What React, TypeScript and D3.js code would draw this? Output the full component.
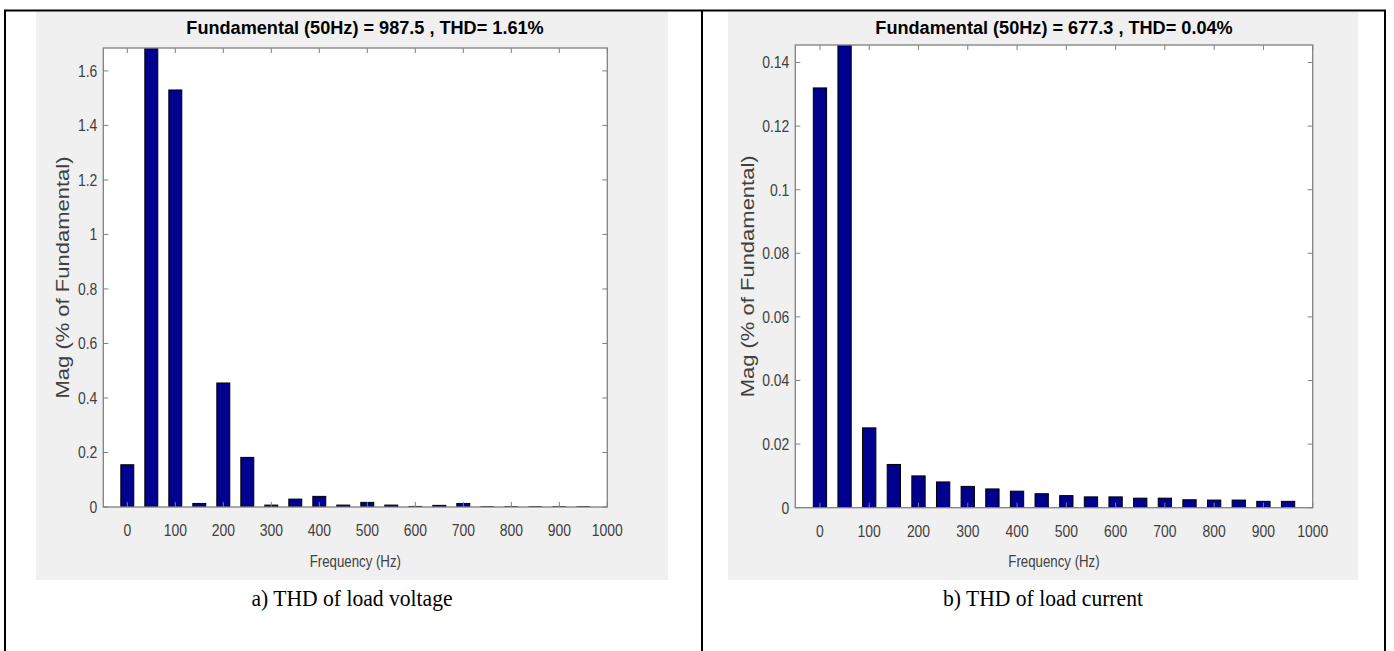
import React from 'react';
import * as d3 from 'd3';

// harmonic spectrum, 0..950 Hz in 50 Hz steps (fundamental bar = 100 %, clipped by the axes)
const freqs = [0, 50, 100, 150, 200, 250, 300, 350, 400, 450, 500, 550, 600, 650, 700, 750, 800, 850, 900, 950];
const voltageMag = [0.155, 100, 1.53, 0.013, 0.455, 0.182, 0.007, 0.029, 0.039, 0.007, 0.017, 0.007, 0.002, 0.006, 0.013, 0.001, 0.001, 0.001, 0.001, 0.001];
const currentMag = [0.132, 100, 0.0251, 0.0136, 0.01, 0.0081, 0.0067, 0.0059, 0.0052, 0.0044, 0.0038, 0.0034, 0.0034, 0.003, 0.003, 0.0025, 0.0024, 0.0024, 0.002, 0.002];

const xTicks = [0, 100, 200, 300, 400, 500, 600, 700, 800, 900, 1000];
const voltageYTicks = [0, 0.2, 0.4, 0.6, 0.8, 1, 1.2, 1.4, 1.6];
const voltageYLabels = ['0', '0.2', '0.4', '0.6', '0.8', '1', '1.2', '1.4', '1.6'];
const currentYTicks = [0, 0.02, 0.04, 0.06, 0.08, 0.1, 0.12, 0.14];
const currentYLabels = ['0', '0.02', '0.04', '0.06', '0.08', '0.1', '0.12', '0.14'];

const voltageTitle = 'Fundamental (50Hz) = 987.5 , THD= 1.61%';
const currentTitle = 'Fundamental (50Hz) = 677.3 , THD= 0.04%';
const voltageCaption = 'a) THD of load voltage';
const currentCaption = 'b) THD of load current';

const SANS = '"Liberation Sans", Arial, sans-serif';
const SERIF = '"Liberation Serif", "Times New Roman", serif';
const BAR = '#00008f';
const AXIS = '#808080';
const LABEL = '#404040';

type PanelProps = {
  id: string;
  bg: [number, number];
  ax: [number, number];
  ay: [number, number];
  yMax: number;
  values: number[];
  yTicks: number[];
  yLabels: string[];
  yTitleX: number;
  title: string;
  titleX: number;
  caption: string;
  captionX: number;
};

function Panel(p: PanelProps) {
  const x = d3.scaleLinear().domain([-50, 1000]).range(p.ax);
  const y = d3.scaleLinear().domain([0, p.yMax]).range([p.ay[1], p.ay[0]]);
  const [left, right] = p.ax;
  const [top, bottom] = p.ay;
  const barW = (x(50) - x(0)) * 0.54;
  const tick = 5;
  const midX = (left + right) / 2;

  return (
    <g>
      <rect x={p.bg[0]} y={11} width={p.bg[1] - p.bg[0]} height={580 - 11} fill="#f0f0f0" />
      <rect x={left} y={top} width={right - left} height={bottom - top} fill="#fff" />
      <clipPath id={p.id}>
        <rect x={left} y={top} width={right - left} height={bottom - top} />
      </clipPath>
      <g clipPath={`url(#${p.id})`}>
        {freqs.map((f, i) => (
          <rect
            key={f}
            x={x(f) - barW / 2}
            y={y(p.values[i])}
            width={barW}
            height={y(0) - y(p.values[i])}
            fill={BAR}
            stroke="#000"
            strokeWidth={1}
          />
        ))}
      </g>

      {/* ticks on all four sides, pointing inwards */}
      <g stroke={AXIS} strokeWidth={1}>
        {xTicks.map((t) => (
          <g key={t}>
            <line x1={x(t)} x2={x(t)} y1={bottom} y2={bottom - tick} />
            <line x1={x(t)} x2={x(t)} y1={top} y2={top + tick} />
          </g>
        ))}
        {p.yTicks.map((t) => (
          <g key={t}>
            <line x1={left} x2={left + tick} y1={y(t)} y2={y(t)} />
            <line x1={right} x2={right - tick} y1={y(t)} y2={y(t)} />
          </g>
        ))}
      </g>
      <rect x={left} y={top} width={right - left} height={bottom - top} fill="none" stroke={AXIS} strokeWidth={1.3} />

      <g fontFamily={SANS} fontSize={17} fill={LABEL}>
        {xTicks.map((t) => (
          <text key={t} transform={`translate(${x(t)},${bottom + 29}) scale(0.82,1)`} textAnchor="middle">
            {t}
          </text>
        ))}
        {p.yTicks.map((t, i) => (
          <text key={t} transform={`translate(${left - 6},${y(t) + 6}) scale(0.82,1)`} textAnchor="end">
            {p.yLabels[i]}
          </text>
        ))}
      </g>

      <text
        transform={`translate(${midX},567) scale(0.78,1)`}
        textAnchor="middle"
        fontFamily={SANS}
        fontSize={17}
        fill={LABEL}
      >
        Frequency (Hz)
      </text>
      <text
        transform={`translate(${p.yTitleX},${(top + bottom) / 2}) rotate(-90) scale(1,0.82)`}
        textAnchor="middle"
        fontFamily={SANS}
        fontSize={22}
        fill={LABEL}
      >
        Mag (% of Fundamental)
      </text>
      <text
        transform={`translate(${p.titleX},34) scale(0.98,1)`}
        textAnchor="middle"
        fontFamily={SANS}
        fontWeight="bold"
        fontSize={18.5}
        fill="#000"
      >
        {p.title}
      </text>

      <text
        transform={`translate(${p.captionX},606) scale(0.9,1)`}
        textAnchor="middle"
        fontFamily={SERIF}
        fontSize={24}
        fill="#000"
      >
        {p.caption}
      </text>
    </g>
  );
}

export default function App() {
  return (
    <svg
      width={1394}
      height={651}
      style={{ position: 'absolute', left: 0, top: 0, background: '#fff' }}
    >
      <Panel
        id="clip-v"
        bg={[36, 668]}
        ax={[103.3, 607.3]}
        ay={[48, 507]}
        yMax={1.684}
        values={voltageMag}
        yTicks={voltageYTicks}
        yLabels={voltageYLabels}
        yTitleX={69}
        title={voltageTitle}
        titleX={365}
        caption={voltageCaption}
        captionX={352}
      />
      <Panel
        id="clip-c"
        bg={[728, 1358]}
        ax={[795.3, 1312.7]}
        ay={[45, 507.7]}
        yMax={0.1455}
        values={currentMag}
        yTicks={currentYTicks}
        yLabels={currentYLabels}
        yTitleX={754}
        title={currentTitle}
        titleX={1054}
        caption={currentCaption}
        captionX={1043}
      />
      <g stroke="#000" strokeWidth={2}>
        <line x1={4} x2={1386} y1={10.5} y2={10.5} />
        <line x1={5} x2={5} y1={10} y2={651} />
        <line x1={702} x2={702} y1={10} y2={651} />
        <line x1={1385} x2={1385} y1={10} y2={651} />
      </g>
    </svg>
  );
}
